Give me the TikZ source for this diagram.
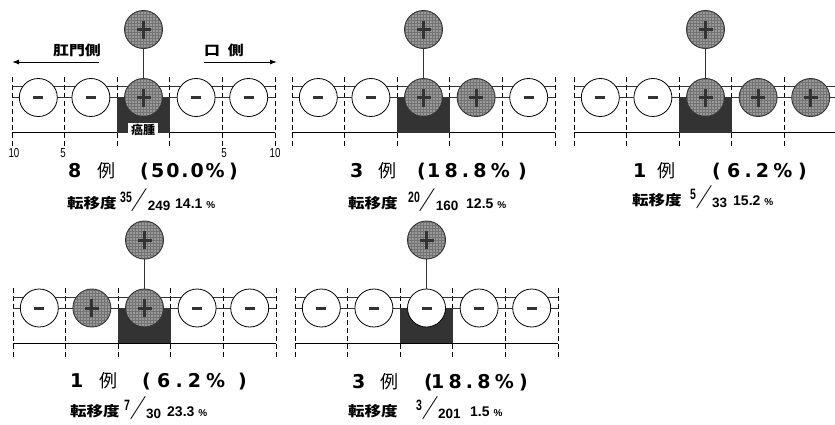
\documentclass[tikz,border=0pt]{standalone}
\usepackage{fontspec}
\usepackage{graphicx}
\setmainfont{Liberation Sans}
\newfontfamily\jp{Noto Sans CJK JP}
\newfontfamily\jpw[FakeStretch=1.18]{Noto Sans CJK JP}
\newfontfamily\condf[FakeStretch=0.75]{Liberation Sans}
\newfontfamily\numfam[FakeStretch=0.7]{Liberation Sans}
\newfontfamily\capfont{DejaVu Sans}
\usetikzlibrary{arrows.meta}
\newcommand\ls[1]{\addfontfeature{LetterSpace=#1}}
\tikzset{
  hline/.style={line width=0.6pt, black!80},
  vdash/.style={line width=0.8pt, black, dash pattern=on 5pt off 3pt},
  botline/.style={line width=0.9pt, black},
  tumor/.style={fill=black!80, draw=none},
  negc/.style={circle, draw=black, line width=0.8pt, fill=white, minimum size=38pt, inner sep=0pt,
    path picture={\draw[line width=3pt, black!80] ([xshift=-5pt]path picture bounding box.center) -- ([xshift=5pt]path picture bounding box.center);}},
  posc/.style={circle, draw=black!80, line width=0.9pt, fill=black!40, minimum size=38pt, inner sep=0pt,
    path picture={
      \draw[black!55, line width=0.3pt, step=3pt] (path picture bounding box.south west) grid (path picture bounding box.north east);
      \draw[line width=3pt, black!80] ([xshift=-7pt]path picture bounding box.center) -- ([xshift=7pt]path picture bounding box.center) ([yshift=-9pt]path picture bounding box.center) -- ([yshift=9pt]path picture bounding box.center);}},
  stem/.style={line width=0.8pt, black!80},
  capb/.style={inner sep=0pt, font=\capfont\bfseries\fontsize{19}{19}\selectfont},
  capj/.style={inner sep=0pt, font=\jp\fontsize{18}{18}\selectfont},
  metj/.style={inner sep=0pt, font=\jpw\bfseries\fontsize{14}{14}\selectfont},
  metf/.style={inner sep=0pt},
  metv/.style={inner sep=0pt, font=\bfseries\fontsize{14}{14}\selectfont},
  dirlab/.style={inner sep=0pt, font=\jpw\bfseries\fontsize{13.5}{13.5}\selectfont},
  dirarrow/.style={line width=1pt, -{Latex[length=7pt,width=5pt]}},
  scalelab/.style={inner sep=0pt, font=\condf\fontsize{13}{13}\selectfont},
  tumlab/.style={fill=white, inner xsep=3pt, inner ysep=1pt, font=\jp\bfseries\fontsize{12}{12}\selectfont},
}
\newcommand\fracpart[2]{%
  \raisebox{6pt}{\numfam\bfseries\fontsize{15}{15}\selectfont #1}%
  \raisebox{-1.5pt}{\jp\bfseries\fontsize{16}{16}\selectfont\scalebox{1}[1.55]{／}}%
  \raisebox{-2.5pt}{\bfseries\fontsize{13.5}{13.5}\selectfont #2}}
\newcommand\panel[8]{%
  \begin{scope}[shift={(#2,#3)}]
    \foreach \i in {0,...,5} \draw[vdash] ({\i*52.6},-20.5) -- ({\i*52.6},49.5);
    \draw[hline] (0,-11) -- (263,-11);
    \draw[hline] (0,0) -- (263,0);
    \draw[botline] (0,35) -- (263,35);
    \fill[tumor] (105.2,0) rectangle (157.8,35);
    \node[#4] (#1c1) at (26.3,0) {};
    \node[#5] (#1c2) at (78.9,0) {};
    \node[#6] (#1c3) at (131.5,0) {};
    \node[#7] (#1c4) at (184.1,0) {};
    \node[#8] (#1c5) at (236.7,0) {};
    \node[posc] (#1top) at (131.5,-68) {};
    \draw[stem] (#1top) -- (#1c3);
  \end{scope}}
\newcommand\capline[9]{%
  \node[capb, anchor=base west] (#1num) at (#3,#2) {#4};
  \node[capj, anchor=base west] (#1rei) at (#5,#2) {例};
  \node[capb, anchor=base west] (#1po) at (#6,#2) {(};
  \node[capb, anchor=base west] (#1pct) at (#7,#2) {#8};
  \node[capb, anchor=base west] (#1pc) at (#9,#2) {)};}
\newcommand\metline[8]{%
  \node[metj, anchor=base west] (#1k) at (#3,#2) {転移度};
  \node[metf, anchor=base west] (#1f) at (#5,#2) {\fracpart{#4}{#6}};
  \node[metv, anchor=base west] (#1v) at (#8,#2) {#7};}
\newcommand\pc{\hspace{4pt}{\fontsize{10}{10}\selectfont\%}}
\begin{document}
\begin{tikzpicture}[x=1pt, y=-1pt]
\useasboundingbox (0,0) rectangle (835,424);
\path[clip] (0,0) rectangle (835,424);
% panels
\panel{a}{12}{97.5}{negc}{negc}{posc}{negc}{negc}
\panel{b}{292}{97.5}{negc}{negc}{posc}{posc}{negc}
\panel{c}{574}{97.5}{negc}{negc}{posc}{posc}{posc}
\panel{d}{13}{308}{negc}{posc}{posc}{negc}{negc}
\panel{e}{295}{308}{negc}{negc}{negc}{negc}{negc}
% panel 1 extras
\node[tumlab] (tl) at (143,130) {癌腫};
\node[dirlab] (anal) at (77,50) {肛門側};
\node[dirlab] (oral) at (224,50) {口\hspace{8pt}側};
\coordinate (la0) at (99,62);
\coordinate (la1) at (12,62);
\coordinate (ra0) at (204,62);
\coordinate (ra1) at (277,62);
\draw[dirarrow] (la0) -- (la1);
\draw[dirarrow] (ra0) -- (ra1);
\node[scalelab] (s1) at (14,153) {10};
\node[scalelab] (s2) at (63,153) {5};
\node[scalelab] (s3) at (224,153) {5};
\node[scalelab] (s4) at (275,153) {10};
% captions
\capline{ca}{177}{68}{8}{97}{140}{151}{{\ls{10}50.0\%}}{229}
\metline{ma}{208}{67}{35}{120}{249}{14.1\pc}{175}
\capline{cb}{177}{350}{3}{378}{417}{427}{{\ls{22}18.8\%}}{518}
\metline{mb}{208}{348}{20}{408}{160}{12.5\pc}{466}
\capline{cc}{177}{633}{1}{657}{712}{727}{{\ls{22}6.2\%}}{798}
\metline{mc}{205}{632}{5}{690}{33}{15.2\pc}{733}
\capline{cd}{387}{70}{1}{99}{142}{157}{{\ls{27}6.2\%}}{238}
\metline{md}{416}{70}{7}{124}{30}{23.3\pc}{167}
\capline{ce}{388}{352}{3}{380}{424}{431}{{\ls{22}18.8\%}}{519}
\metline{me}{416}{348}{3}{416}{201}{1.5\pc}{470}
\end{tikzpicture}
\end{document}
